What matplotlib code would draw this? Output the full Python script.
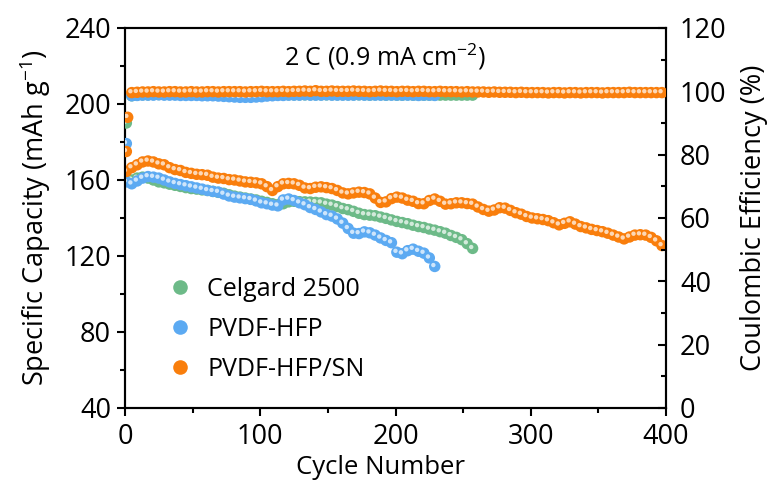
import matplotlib
matplotlib.use("Agg")
import matplotlib.pyplot as plt
from matplotlib.transforms import offset_copy
from matplotlib.lines import Line2D
from matplotlib.ticker import MultipleLocator

plt.rcParams['font.family'] = ['Open Sans', 'DejaVu Sans']
plt.rcParams['mathtext.default'] = 'regular'

# ---------------- data ----------------
labels = ["Celgard 2500", "PVDF-HFP", "PVDF-HFP/SN"]
colors = ["#6DBA88", "#5CAAF2", "#F97E0C"]

cycles_sn = list(range(1, 401, 4))
cap_sn = [164.5, 166.5, 168, 169.5, 170, 169.5, 168.5, 168, 166.5, 165.5,
          165, 164, 163.5, 163, 162.8, 162.5, 161.5, 161, 160.8, 160.2,
          160, 159.5, 159, 158.8, 158.5, 158, 156.5, 154.5, 156.5, 158,
          158.2, 158, 157.2, 155.8, 155.5, 156.2, 156.4, 156, 155.5, 154.5,
          153.2, 152.7, 153.2, 153.6, 153.4, 152.7, 150.5, 148.2, 148.5, 150.2,
          151, 150.5, 149.4, 148.8, 147.6, 147.5, 149.2, 150, 148.8, 147.3,
          147.5, 148, 148, 147.6, 147.3, 145.8, 144.5, 143.6, 144.2, 145.4,
          145.2, 144, 142.8, 142, 140.8, 140, 139.6, 139.2, 138.6, 137.5,
          136.4, 137.2, 138, 136.8, 135.5, 134.8, 134, 133.4, 132.8, 132,
          131, 130, 129, 130, 131, 131.2, 131, 129.8, 128, 125.5]

cycles_pvdf = list(range(1, 230, 4))
cap_pvdf = [159, 158, 159.5, 161, 161.8, 161.5, 161, 160, 159, 158.2,
            157.6, 157, 156.4, 155.8, 155.2, 154.5, 154, 153.6, 152.6, 151.6,
            151, 150.6, 150.2, 149.8, 149, 148, 147.5, 146.8, 146.4, 149.5,
            150, 149.2, 148, 147, 145.5, 144.5, 143.2, 141.8, 141, 139.5,
            137.3, 134.5, 132, 131.8, 132.7, 132.2, 131, 129.5, 128.2, 127,
            122, 121.2, 122.8, 123.6, 122.5, 121.5, 119, 114.5]

cycles_cel = list(range(1, 258, 4))
cap_cel = [161, 160, 161, 161.5, 161, 160, 159, 158.5, 157.8, 157.2,
           156.6, 156, 155.5, 155.2, 154.8, 154.5, 154, 153.5, 153, 152.2,
           151.5, 151, 150.5, 150, 149.5, 148.8, 148.2, 147.5, 147, 147.5,
           148.5, 148.8, 148.6, 148.5, 148.4, 148.2, 148, 147.3, 146.8, 146,
           145, 144.4, 143.5, 142.5, 141.8, 141.5, 141.2, 140.5, 139.8, 139,
           138.2, 137.6, 137, 136.2, 135.5, 135, 134.2, 133.6, 132.8, 132,
           130.8, 129.8, 128.6, 126.5, 124]

ce_cycles_sn = [1, 2] + list(range(5, 401, 4))
ce_sn = [81.0, 91.8,
         99.6, 99.7, 99.8, 99.8, 99.9, 99.8, 99.8, 99.9, 99.9, 99.8,
         99.8, 99.9, 99.8, 99.8, 99.9, 99.9, 99.8, 99.9, 99.9, 99.9,
         99.9, 99.8, 99.9, 99.9, 100.0, 99.9, 99.9, 99.9, 100.0, 99.9,
         100.0, 100.0, 100.1, 100.0, 100.2, 100.0, 100.0, 100.1, 100.0, 100.0,
         100.0, 100.1, 100.0, 100.0, 99.9, 100.0, 100.1, 100.0, 100.0, 99.9,
         100.0, 100.0, 99.9, 100.0, 100.0, 99.9, 99.9, 100.0, 99.9, 99.9,
         99.9, 99.8, 99.9, 99.8, 99.8, 99.8, 99.7, 99.8, 99.7, 99.7,
         99.7, 99.6, 99.7, 99.6, 99.6, 99.6, 99.6, 99.5, 99.6, 99.6,
         99.5, 99.6, 99.6, 99.5, 99.6, 99.6, 99.6, 99.5, 99.6, 99.6,
         99.6, 99.6, 99.7, 99.6, 99.6, 99.6, 99.6, 99.6, 99.6]

ce_cycles_pvdf = [1] + list(range(5, 230, 4))
ce_pvdf = [83.5,
           98.6, 98.7, 98.8, 98.8, 98.8, 98.9, 98.8, 98.8, 98.8, 98.7,
           98.7, 98.7, 98.7, 98.6, 98.6, 98.6, 98.5, 98.4, 98.3, 98.2,
           98.1, 98.1, 98.1, 98.2, 98.3, 98.5, 98.6, 98.7, 98.7, 98.8,
           98.8, 98.8, 98.9, 98.8, 98.8, 98.8, 98.9, 98.8, 98.8, 98.8,
           98.8, 98.8, 98.9, 98.8, 98.8, 98.8, 98.8, 98.8, 98.8, 98.8,
           98.8, 98.8, 98.8, 98.7, 98.8, 98.8, 98.7]

ce_cycles_cel = [1] + list(range(5, 258, 4))
ce_cel = [90.0,
          98.6, 98.8, 98.9, 98.9, 99.0, 99.0, 99.0, 99.0, 99.0, 99.0,
          99.0, 99.0, 99.0, 99.0, 99.0, 99.0, 99.0, 99.0, 99.0, 99.0,
          99.0, 99.0, 99.0, 99.0, 99.0, 99.0, 98.9, 98.9, 98.9, 98.9,
          98.9, 98.9, 98.9, 98.9, 98.9, 98.9, 98.9, 98.9, 98.9, 98.9,
          98.9, 98.9, 98.9, 98.9, 98.8, 98.9, 98.9, 98.8, 98.9, 98.8,
          98.8, 98.9, 98.8, 98.8, 98.8, 98.8, 98.8, 98.8, 98.8, 98.8,
          98.8, 98.8, 98.8, 98.8]

# ---------------- figure ----------------
fig = plt.figure(figsize=(7.74, 4.84), dpi=100)
ax = fig.add_axes([125 / 774, 1 - 408 / 484, 541 / 774, 380 / 484])
ax2 = ax.twinx()

MS = 68
HS = 10


def balls(axis, x, y, color, z):
    axis.scatter(x, y, s=MS, color=color, edgecolors='none', zorder=z)
    tr = offset_copy(axis.transData, fig=fig, x=-1.0, y=1.0, units='points')
    axis.scatter(x, y, s=HS, color='white', alpha=0.7, edgecolors='none',
                 transform=tr, zorder=z + 0.5)


caps = [(cycles_cel, cap_cel), (cycles_pvdf, cap_pvdf), (cycles_sn, cap_sn)]
ces = [(ce_cycles_cel, ce_cel), (ce_cycles_pvdf, ce_pvdf), (ce_cycles_sn, ce_sn)]
for i, ((cx, cy), (ex, ey)) in enumerate(zip(caps, ces)):
    balls(ax, cx, cy, colors[i], 3 + i)
    balls(ax2, ex, ey, colors[i], 3 + i)

ax.set_xlim(0, 400)
ax.set_ylim(40, 240)
ax2.set_ylim(0, 120)

ax.xaxis.set_major_locator(MultipleLocator(100))
ax.xaxis.set_minor_locator(MultipleLocator(50))
ax.yaxis.set_major_locator(MultipleLocator(40))
ax.yaxis.set_minor_locator(MultipleLocator(20))
ax2.yaxis.set_major_locator(MultipleLocator(20))
ax2.yaxis.set_minor_locator(MultipleLocator(10))

FS = 18
TFS = 19.5
for a in (ax, ax2):
    for s in a.spines.values():
        s.set_linewidth(1.5)
ax.tick_params(axis='y', which='major', direction='out', length=6, width=1.5,
               labelsize=TFS, right=False, pad=4)
ax.tick_params(axis='x', which='major', direction='out', length=6, width=1.5,
               labelsize=TFS, top=False, pad=5)
ax.tick_params(axis='both', which='minor', direction='out', length=3.5, width=1.5,
               top=False, right=False)
ax2.tick_params(axis='y', which='major', direction='in', length=6, width=1.5,
                labelsize=TFS, pad=10)
ax2.tick_params(axis='y', which='minor', direction='in', length=3.5, width=1.5)

ax.set_xlabel("Cycle Number", fontsize=FS + 0.5)
ax.xaxis.set_label_coords(0.473, -0.125)
ax.set_ylabel("Specific Capacity (mAh g$^{-1}$)", fontsize=19.5, labelpad=8)
ax2.set_ylabel("Coulombic Efficiency (%)", fontsize=19.5, labelpad=10)

ax.text(0.48, 0.924, "2 C (0.9 mA cm$^{-2}$)", transform=ax.transAxes,
        ha='center', va='center', fontsize=FS)

handles = [Line2D([], [], marker='o', linestyle='none', markersize=10.5,
                  markerfacecolor=c, markeredgecolor='none') for c in colors]
ax2.legend(handles, labels, loc='lower left', bbox_to_anchor=(0.06, 0.042),
           frameon=False, fontsize=FS, handletextpad=0.6, labelspacing=0.61,
           handlelength=1.0, borderaxespad=0)

fig.savefig("out.png", dpi=100)
